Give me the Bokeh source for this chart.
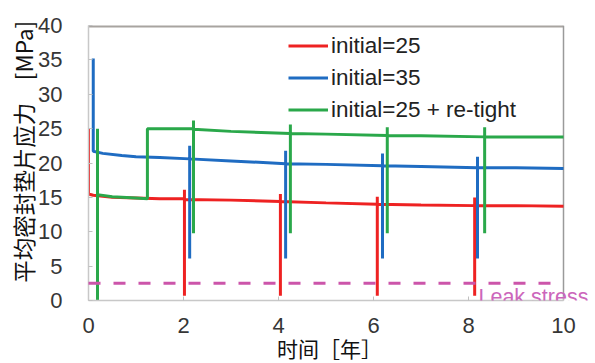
from bokeh.plotting import figure
from bokeh.models import Legend, LegendItem, Label, FixedTicker, Range1d
from bokeh.embed import file_html
from bokeh.resources import INLINE

# ---- data ----
x_ticks = [0, 2, 4, 6, 8, 10]
y_ticks = [0, 5, 10, 15, 20, 25, 30, 35, 40]

red_x = [0.0, 0.0, 0.1, 0.5, 1.0, 1.5, 2.02, 2.02, 2.02, 2.02, 3.0, 4.04, 4.04, 4.04, 4.04,
         5.0, 6.08, 6.08, 6.08, 6.08, 7.0, 8.13, 8.13, 8.13, 8.13, 9.0, 10.0]
red_y = [25.0, 15.5, 15.3, 15.0, 14.9, 14.8, 14.8, 0.7, 16.1, 14.7, 14.6, 14.4, 0.7, 15.5, 14.4,
         14.2, 14.0, 0.7, 15.1, 14.0, 13.9, 13.8, 0.7, 15.0, 13.8, 13.8, 13.7]

blue_x = [0.1, 0.1, 0.3, 0.7, 1.0, 1.5, 2.13, 2.13, 2.13, 2.13, 3.0, 4.15, 4.15, 4.15, 4.15,
          5.0, 6.19, 6.19, 6.19, 6.19, 7.0, 8.19, 8.19, 8.19, 8.19, 9.0, 10.0]
blue_y = [35.2, 21.7, 21.4, 21.1, 20.9, 20.8, 20.6, 6.1, 22.5, 20.6, 20.3, 19.9, 6.1, 21.8, 19.9,
          19.8, 19.6, 6.1, 21.4, 19.6, 19.5, 19.3, 6.1, 20.9, 19.3, 19.3, 19.2]

green_x = [0.19, 0.19, 0.19, 0.5, 1.0, 1.24, 1.24, 1.7, 2.21, 2.21, 2.21, 2.21, 3.0,
           4.25, 4.25, 4.25, 4.25, 5.0, 6.29, 6.29, 6.29, 6.29, 7.0,
           8.34, 8.34, 8.34, 8.34, 9.0, 10.0]
green_y = [0.0, 25.0, 15.4, 15.1, 14.9, 14.8, 25.0, 25.0, 25.0, 9.8, 26.2, 24.9, 24.6,
           24.3, 9.8, 25.6, 24.3, 24.2, 24.0, 9.8, 25.2, 24.0, 23.95,
           23.8, 9.8, 25.2, 23.8, 23.8, 23.8]

leak_x = [0, 10]
leak_y = [2.5, 2.5]

series_labels = ["initial=25", "initial=35", "initial=25 + re-tight"]
leak_label = "Leak stress"
x_title = "时间［年］　\u2002\u2009"
y_title = "　平均密封垫片应力　[MPa]"

# frame spans 0..10 over 88..563 px; extra room on the right for the "Leak stress" text
x_end = x_ticks[-1] * (595 - 88) / (563 - 88)

# ---- figure ----
p = figure(width=595, height=363, output_backend="svg", toolbar_location=None,
           x_range=Range1d(0, x_end), y_range=Range1d(y_ticks[0], y_ticks[-1]),
           min_border_left=88, min_border_right=0, min_border_top=25, min_border_bottom=63)
p.grid.visible = False
p.outline_line_color = None
p.background_fill_color = "white"
p.border_fill_color = "white"

# frame top / right lines
p.segment(x0=[x_ticks[0]], y0=[y_ticks[-1]], x1=[x_ticks[-1]], y1=[y_ticks[-1]],
          line_color="#a8a4a0", line_width=4)
p.segment(x0=[x_ticks[-1]], y0=[y_ticks[0]], x1=[x_ticks[-1]], y1=[y_ticks[-1]],
          line_color="#9a9a9a", line_width=1.5)

r_red = p.line(red_x, red_y, line_color="#ee2222", line_width=3)
r_blue = p.line(blue_x, blue_y, line_color="#1f6cc2", line_width=3)
r_green = p.line(green_x, green_y, line_color="#2aa84a", line_width=3)

p.add_layout(Label(x=8.21, y=0.55, text=leak_label, text_font="Liberation Sans",
                   text_font_size="21.5px", text_color="#cc66bb", text_baseline="alphabetic"))
p.line(leak_x, leak_y, line_color="#cc55aa", line_width=3, line_dash="12 13", level="overlay")

for ax, ticks in ((p.xaxis, x_ticks), (p.yaxis, y_ticks)):
    ax.ticker = FixedTicker(ticks=ticks)
    ax.axis_line_color = "#c8c8c8"
    ax.axis_line_width = 1.5
    ax.major_tick_in = 4
    ax.major_tick_out = 0
    ax.major_tick_line_color = "#c0c0c0"
    ax.minor_tick_line_color = None
    ax.major_label_text_font = "Liberation Sans"
    ax.major_label_text_font_size = "22px"
    ax.major_label_text_color = "#363636"
    ax.axis_label_text_font_style = "normal"
    ax.axis_label_text_color = "#111111"

p.xaxis.bounds = (x_ticks[0], x_ticks[-1])
p.xaxis.axis_label = x_title
p.xaxis.axis_label_text_font = "Liberation Sans, Noto Sans CJK SC"
p.xaxis.axis_label_text_font_size = "21px"
p.xaxis.major_label_standoff = 17
p.xaxis.axis_label_standoff = 2

p.yaxis.axis_label = y_title
p.yaxis.axis_label_text_font = "Noto Sans CJK SC"
p.yaxis.axis_label_text_font_size = "22.5px"
p.yaxis.major_label_standoff = 26
p.yaxis.axis_label_standoff = -4

legend = Legend(items=[LegendItem(label=series_labels[0], renderers=[r_red]),
                       LegendItem(label=series_labels[1], renderers=[r_blue]),
                       LegendItem(label=series_labels[2], renderers=[r_green])],
                location=(200, 176), padding=0, margin=0, border_line_color=None,
                background_fill_alpha=0, glyph_width=40, glyph_height=29, label_height=29,
                label_standoff=3, spacing=3, label_text_font="Liberation Sans",
                label_text_font_size="22.5px", label_text_color="#222222")
p.add_layout(legend)

open("out.html", "w").write(file_html(p, INLINE))
